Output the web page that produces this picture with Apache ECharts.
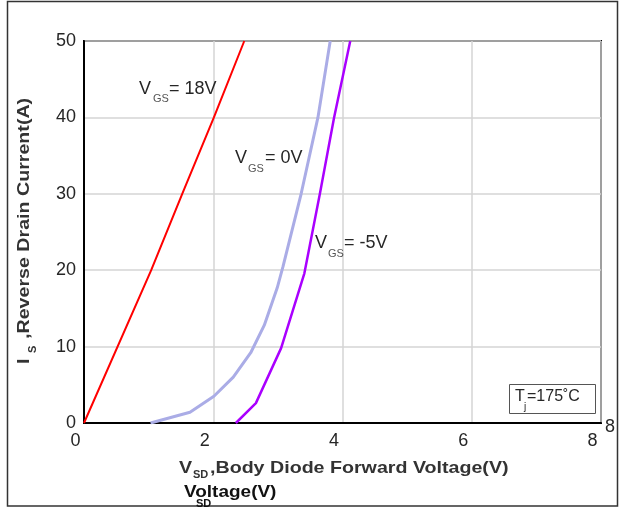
<!DOCTYPE html>
<html>
<head>
<meta charset="utf-8">
<script src="https://cdn.jsdelivr.net/npm/echarts@6/dist/echarts.min.js"></script>
<style>
html,body{margin:0;padding:0;background:#fff;}
#main{width:627px;height:509px;}
</style>
</head>
<body>
<div id="main"></div>
<script>
// ---- data ----
var seriesNames = ['VGS= 18V', 'VGS= 0V', 'VGS= -5V'];
var vgs18_V = [0, 1.04, 1.52, 2.01, 2.48];
var vgs18_I = [0, 20, 30, 40, 50];
var vgs0_V = [1.03, 1.64, 2.01, 2.31, 2.58, 2.79, 2.99, 3.08, 3.36, 3.62, 3.81];
var vgs0_I = [0, 1.4, 3.5, 6.0, 9.2, 12.8, 17.7, 20.5, 30, 40, 50];
var vgsm5_V = [2.35, 2.66, 3.05, 3.41, 3.65, 3.87, 4.12];
var vgsm5_I = [0, 2.6, 9.8, 19.6, 30, 40, 50];
var xTicks = [0, 2, 4, 6, 8];
var yTicks = [0, 10, 20, 30, 40, 50];

function pairs(xs, ys) { return xs.map(function (x, i) { return [x, ys[i]]; }); }

var chart = echarts.init(document.getElementById('main'), null, {renderer: 'canvas'});
var FONT = '"Liberation Sans", Arial, sans-serif';
var txtColor = '#262626';

function t(x, y, text, size, opts) {
  opts = opts || {};
  return {
    type: 'text', x: x, y: y, z: 100,
    rotation: opts.rotation || 0,
    scaleX: opts.scaleX || 1,
    style: {
      text: text, fontFamily: FONT, fontSize: size,
      fontWeight: opts.bold ? 'bold' : 'normal',
      fill: opts.color || txtColor,
      align: opts.align || 'left', verticalAlign: 'middle'
    }
  };
}

var graphics = [
  // outer frame
  {type: 'rect', shape: {x: 7.5, y: 1.5, width: 610, height: 504.5}, style: {fill: 'none', stroke: '#333', lineWidth: 1.5}, z: 0},
  // x axis title
  t(179, 468, 'V', 16.5, {bold: true, scaleX: 1.19, color: '#333'}),
  t(193, 475, 'SD', 11, {bold: true, color: '#333'}),
  t(210, 468, ',Body Diode Forward Voltage(V)', 16.5, {bold: true, scaleX: 1.19, color: '#333'}),
  // second line
  t(184, 492, 'Voltage(V)', 16.5, {bold: true, scaleX: 1.15, color: '#111'}),
  t(196, 503.5, 'SD', 11, {bold: true, color: '#111'}),
  // y axis title (rotated)
  t(24, 364, 'I', 16.5, {bold: true, scaleX: 1.19, rotation: Math.PI / 2, color: '#333'}),
  t(33, 353, 'S', 11, {bold: true, rotation: Math.PI / 2, color: '#333'}),
  t(24, 339, ',Reverse Drain Current(A)', 16.5, {bold: true, scaleX: 1.19, rotation: Math.PI / 2, color: '#333'}),
  // curve labels
  t(139, 89, 'V', 18), t(153, 99, 'GS', 11, {color: '#555'}), t(169, 89, '= 18V', 18),
  t(235, 158.5, 'V', 18), t(248, 169, 'GS', 11, {color: '#555'}), t(265, 158.5, '= 0V', 18),
  t(315, 243.5, 'V', 18), t(328, 254, 'GS', 11, {color: '#555'}), t(344, 243.5, '= -5V', 18),
  // Tj box
  {type: 'rect', shape: {x: 509.5, y: 384.5, width: 86, height: 29}, style: {fill: '#fff', stroke: '#555', lineWidth: 1}, z: 90},
  t(515, 397, 'T', 16),
  t(524, 407, 'j', 10),
  t(527, 397, '=175˚C', 16),
  // stray tick label
  t(605, 427, '8', 18)
];

var option = {
  animation: false,
  backgroundColor: '#fff',
  grid: {left: 84, right: 26, top: 41, bottom: 86, show: true, borderColor: '#000', borderWidth: 2, backgroundColor: 'transparent'},
  xAxis: {
    type: 'value', min: xTicks[0], max: xTicks[xTicks.length - 1], interval: 2,
    axisLine: {show: true, lineStyle: {color: '#000', width: 2}},
    axisTick: {show: false},
    splitLine: {show: true, lineStyle: {color: '#d4d4d4', width: 1.5}},
    axisLabel: {color: txtColor, fontSize: 18, fontFamily: FONT, margin: 9, padding: [0, 17, 0, 0]}
  },
  yAxis: {
    type: 'value', min: yTicks[0], max: yTicks[yTicks.length - 1], interval: 10,
    axisLine: {show: true, lineStyle: {color: '#000', width: 2}},
    axisTick: {show: false},
    splitLine: {show: true, lineStyle: {color: '#d4d4d4', width: 1.5}},
    axisLabel: {color: txtColor, fontSize: 18, fontFamily: FONT, margin: 8}
  },
  series: [
    {name: seriesNames[0], type: 'line', data: pairs(vgs18_V, vgs18_I), showSymbol: false, lineStyle: {color: '#ff0000', width: 2}, itemStyle: {color: '#ff0000'}, z: 5},
    {name: seriesNames[1], type: 'line', data: pairs(vgs0_V, vgs0_I), showSymbol: false, lineStyle: {color: '#aaace6', width: 3}, itemStyle: {color: '#aaace6'}, z: 5},
    {name: seriesNames[2], type: 'line', data: pairs(vgsm5_V, vgsm5_I), showSymbol: false, lineStyle: {color: '#aa00ff', width: 2.5}, itemStyle: {color: '#aa00ff'}, z: 5}
  ],
  graphic: graphics
};
chart.setOption(option);
</script>
</body>
</html>
